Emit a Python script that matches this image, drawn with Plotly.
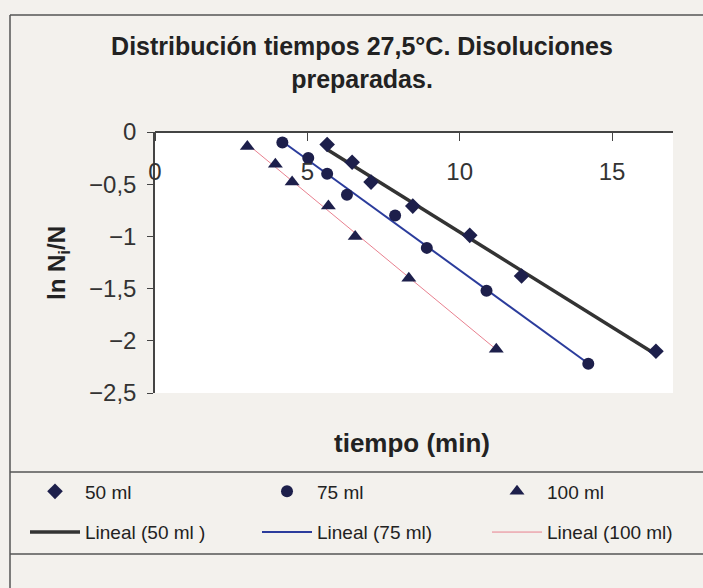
import numpy as np
import plotly.graph_objects as go

# Measured series: time (min) vs ln(Ni/N)
t_50 = [5.65, 6.47, 7.09, 8.46, 10.33, 12.03, 16.44]
ln_50 = [-0.12, -0.29, -0.48, -0.71, -0.99, -1.38, -2.10]

t_75 = [4.18, 5.03, 5.65, 6.30, 7.88, 8.92, 10.88, 14.22]
ln_75 = [-0.10, -0.25, -0.40, -0.60, -0.80, -1.11, -1.52, -2.22]

t_100 = [3.03, 3.95, 4.50, 5.69, 6.57, 8.33, 11.20]
ln_100 = [-0.14, -0.31, -0.48, -0.71, -1.00, -1.40, -2.08]

series_names = ["50 ml", "75 ml", "100 ml"]
trend_names = ["Lineal (50 ml )", "Lineal (75 ml)", "Lineal (100 ml)"]
x_ticks = [0, 5, 10, 15]
y_ticks = [0, -0.5, -1, -1.5, -2, -2.5]

W, H = 703, 588
ML, MR, MT, MB = 155, 30, 132, 195
PW, PH = W - ML - MR, H - MT - MB

marker_color = "#1d1f4b"
trend_styles = [dict(color="#333333", width=3.5),
                dict(color="#2b3c9c", width=2),
                dict(color="#e8808f", width=1)]
symbols = ["diamond", "circle", "triangle-up"]
marker_sizes = [12, 12, 13]
legend_ids = ["legend", "legend2", "legend3"]

fig = go.Figure()

data = [(t_50, ln_50), (t_75, ln_75), (t_100, ln_100)]

# Linear trendlines (least squares), spanning each series' time range
for (tx, ly), name, st, lg in zip(data, trend_names, trend_styles, legend_ids):
    slope, icpt = np.polyfit(tx, ly, 1)
    xs = np.array([min(tx), max(tx)])
    fig.add_trace(go.Scatter(x=xs, y=slope * xs + icpt, mode="lines",
                             name=name, line=st, legend=lg, legendrank=2,
                             legendgroup=name, hoverinfo="skip"))

for (tx, ly), name, sym, sz, lg in zip(data, series_names, symbols,
                                        marker_sizes, legend_ids):
    fig.add_trace(go.Scatter(x=tx, y=ly, mode="markers", name=name,
                             marker=dict(symbol=sym, size=sz, color=marker_color,
                                         line=dict(width=0)),
                             legend=lg, legendrank=1, legendgroup=name))


def px(xp):
    return (xp - ML) / PW


def py(yp):
    return (H - MB - yp) / PH


frame = dict(color="#555555", width=1.5)
shapes = [
    dict(type="line", xref="paper", yref="paper", x0=px(10), x1=px(W + 5),
         y0=py(15), y1=py(15), line=frame),
    dict(type="line", xref="paper", yref="paper", x0=px(10), x1=px(10),
         y0=py(15), y1=py(H + 5), line=frame),
    dict(type="line", xref="paper", yref="paper", x0=px(10), x1=px(W + 5),
         y0=py(472), y1=py(472), line=frame),
    dict(type="line", xref="paper", yref="paper", x0=px(10), x1=px(W + 5),
         y0=py(554), y1=py(554), line=frame),
]

legend_font = dict(family="Liberation Sans, Arial, sans-serif", size=19, color="#222222")
legend_common = dict(orientation="v", xref="container", yref="container",
                     xanchor="left", yanchor="middle", bgcolor="rgba(0,0,0,0)",
                     borderwidth=0, font=legend_font, itemwidth=50,
                     tracegroupgap=13, traceorder="grouped", itemclick=False,
                     y=1 - 512 / H)
legend_x = [25, 257, 487]

fig.update_layout(
    width=W, height=H,
    margin=dict(l=ML, r=MR, t=MT, b=MB, pad=0, autoexpand=False),
    paper_bgcolor="#f3f1ed",
    plot_bgcolor="#ffffff",
    separators=",.",
    font=dict(family="Liberation Sans, Arial, sans-serif", color="#2a2a2a"),
    title=dict(text="<b>Distribución tiempos 27,5°C. Disoluciones<br>preparadas.</b>",
               x=362 / W, xanchor="center", xref="container",
               y=1 - 55 / H, yanchor="middle", yref="container",
               font=dict(size=25, color="#222222")),
    xaxis=dict(range=[0, 17], tickvals=x_ticks, anchor="free", position=1,
               side="bottom", showline=True, linecolor="#444444", linewidth=1.5,
               ticks="outside", ticklen=8, tickcolor="#444444",
               ticklabelstandoff=10, showgrid=False, zeroline=False,
               tickfont=dict(size=24, color="#333333")),
    yaxis=dict(range=[-2.5, 0], tickvals=y_ticks, showline=True,
               linecolor="#444444", linewidth=1.5, ticks="outside", ticklen=6,
               tickcolor="#444444", showgrid=False, zeroline=False,
               ticklabelstandoff=6,
               tickfont=dict(size=24, color="#333333")),
    legend=dict(x=legend_x[0] / W, **legend_common),
    legend2=dict(x=legend_x[1] / W, **legend_common),
    legend3=dict(x=legend_x[2] / W, **legend_common),
    shapes=shapes,
    annotations=[
        dict(text="<b>tiempo (min)</b>", xref="paper", yref="paper",
             x=px(412), y=py(443), xanchor="center", yanchor="middle",
             showarrow=False, font=dict(size=26, color="#222222")),
        dict(text="<b>ln N<sub>i</sub>/N</b>", xref="paper", yref="paper",
             x=px(58), y=py(263), xanchor="center", yanchor="middle",
             textangle=-90, showarrow=False,
             font=dict(size=24, color="#222222")),
    ],
)

fig.write_html("out.html")
